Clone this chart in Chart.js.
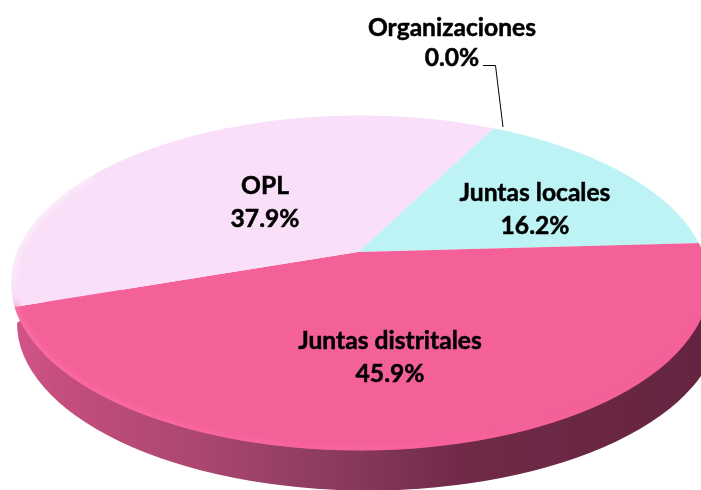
<!DOCTYPE html>
<html>
<head>
<meta charset="utf-8">
<style>
html,body{margin:0;padding:0;background:#fff;}
canvas{display:block;}
</style>
<script src="https://cdn.jsdelivr.net/npm/chart.js@4"></script>
</head>
<body>
<canvas id="c" width="701" height="490"></canvas>
<script>
const categories = ["Juntas locales", "Juntas distritales", "OPL", "Organizaciones"];
const shares = [16.2, 45.9, 37.9, 0.0];
const colours = ["#BEF3F6", "#F46199", "#F9DFF8", "#C0504D"];
const labelCentres = [[535, 193], [390, 341], [265, 186], [452, 28]];

const apex = {x: 358, y: 252};
const rim = {x: 360, y: 283, rx: 349, ry: 167.5};
const wall = {x: 368, y: 323, rx: 351, ry: 167.5};
const radiusX = 430, radiusY = 215;

function rimPath(ctx) {
  ctx.beginPath();
  ctx.ellipse(rim.x, rim.y, rim.rx, rim.ry, 0, 0, Math.PI * 2);
}

const tiltedPie = {
  id: "tiltedPie",
  beforeDatasetsDraw(chart) {
    const ctx = chart.ctx;
    const arc = chart.getDatasetMeta(0).data[0];
    // side wall
    ctx.save();
    const g = ctx.createLinearGradient(rim.x - rim.rx, 0, rim.x + rim.rx, 0);
    g.addColorStop(0, "#D3558A");
    g.addColorStop(0.07, "#C54E7F");
    g.addColorStop(0.28, "#A94670");
    g.addColorStop(0.47, "#8B3A5E");
    g.addColorStop(0.65, "#702A48");
    g.addColorStop(1, "#642440");
    ctx.fillStyle = g;
    ctx.beginPath();
    ctx.ellipse(wall.x, wall.y, wall.rx, wall.ry, 0, 0, Math.PI);
    ctx.lineTo(60, 290);
    ctx.lineTo(680, 290);
    ctx.closePath();
    ctx.fill();
    ctx.restore();
    // top face: clip to the rim and flatten the pie
    ctx.save();
    rimPath(ctx);
    ctx.clip();
    ctx.translate(apex.x, apex.y);
    ctx.scale(radiusX / arc.outerRadius, radiusY / arc.outerRadius);
    ctx.translate(-arc.x, -arc.y);
  },
  afterDatasetsDraw(chart) {
    const ctx = chart.ctx;
    ctx.restore();
    // soft rim highlights
    ctx.save();
    rimPath(ctx);
    ctx.clip();
    ctx.filter = "blur(3px)";
    ctx.lineWidth = 5;
    const h = ctx.createLinearGradient(rim.x - rim.rx, 0, rim.x + rim.rx, 0);
    h.addColorStop(0, "rgba(255,120,170,0.9)");
    h.addColorStop(0.6, "rgba(255,100,160,0.7)");
    h.addColorStop(1, "rgba(240,100,150,0)");
    ctx.strokeStyle = h;
    ctx.beginPath();
    ctx.ellipse(rim.x, rim.y, rim.rx, rim.ry, 0, 0.15, Math.PI - 0.12);
    ctx.stroke();
    ctx.lineWidth = 8;
    ctx.strokeStyle = "rgba(255,255,255,0.45)";
    ctx.beginPath();
    ctx.ellipse(rim.x, rim.y, rim.rx, rim.ry, 0, Math.PI - 0.02, Math.PI + 0.7);
    ctx.stroke();
    ctx.restore();
    // leader line
    ctx.save();
    ctx.strokeStyle = "#000";
    ctx.lineWidth = 1;
    ctx.beginPath();
    ctx.moveTo(483, 65.5);
    ctx.lineTo(495.5, 65.5);
    ctx.lineTo(503, 127);
    ctx.stroke();
    // labels
    ctx.fillStyle = "#000";
    ctx.strokeStyle = "#000";
    ctx.lineWidth = 0.5;
    ctx.font = 'bold 24.6px "Lato", sans-serif';
    ctx.textAlign = "center";
    ctx.textBaseline = "middle";
    categories.forEach((name, i) => {
      const [x, y] = labelCentres[i];
      const pct = shares[i].toFixed(1) + "%";
      const y2 = y + (i === 3 ? 30 : 33);
      ctx.fillText(name, x, y);
      ctx.strokeText(name, x, y);
      ctx.fillText(pct, x, y2);
      ctx.strokeText(pct, x, y2);
    });
    ctx.restore();
  }
};

new Chart(document.getElementById("c"), {
  type: "pie",
  data: {
    labels: categories,
    datasets: [{
      data: shares,
      backgroundColor: colours,
      borderWidth: 0,
      clip: false
    }]
  },
  options: {
    responsive: false,
    animation: false,
    rotation: 28.7,
    layout: {padding: 0},
    plugins: {legend: {display: false}, tooltip: {enabled: false}}
  },
  plugins: [tiltedPie]
});
</script>
</body>
</html>
